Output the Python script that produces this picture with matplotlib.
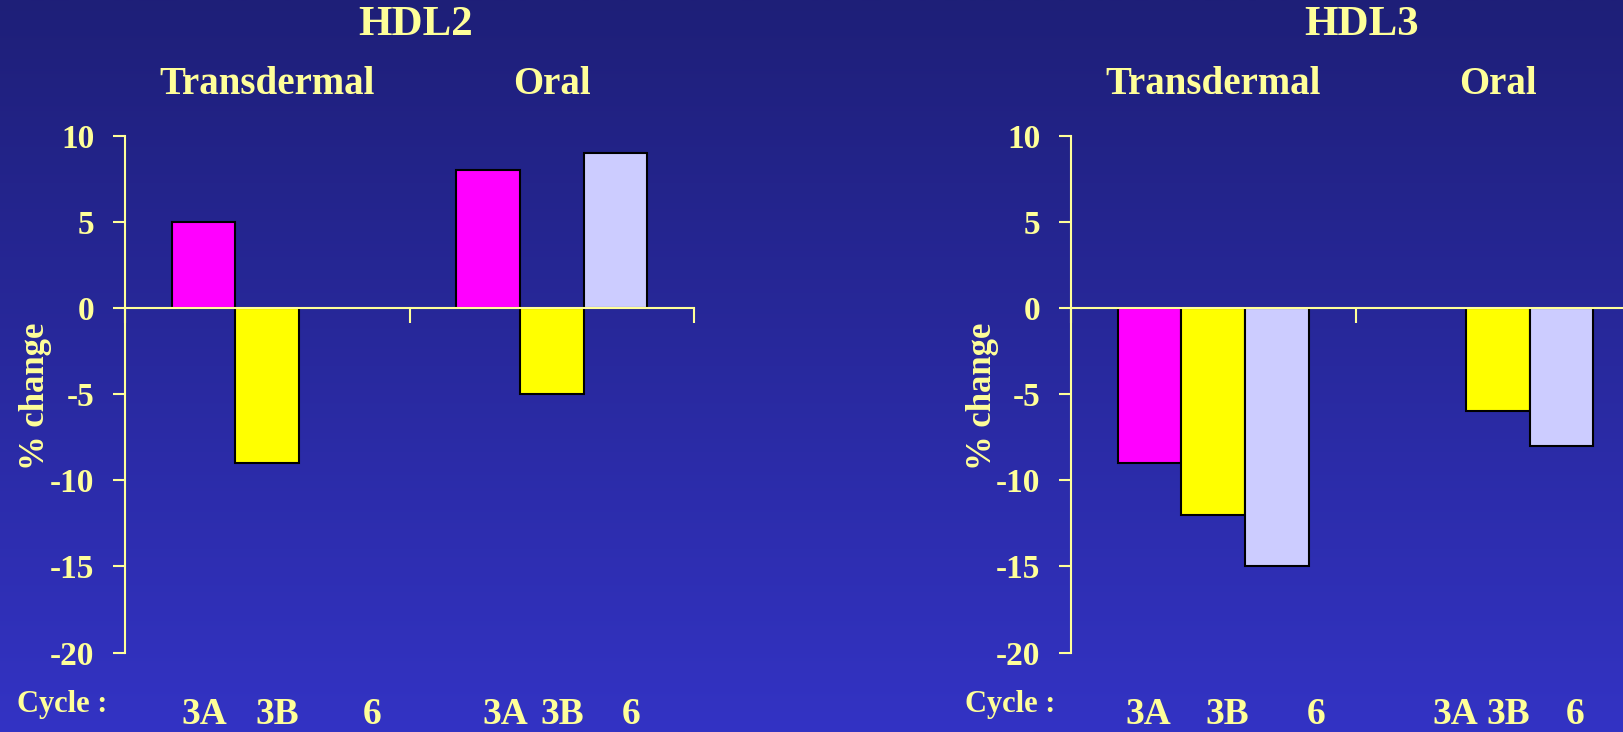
import numpy as np
import matplotlib
matplotlib.use("Agg")
from matplotlib import pyplot as plt
from matplotlib.colors import LinearSegmentedColormap

plt.rcParams["axes.unicode_minus"] = False

# data (None = no bar drawn)
groups = ["Transdermal", "Oral"]
cycles = ["3A", "3B", "6"]
hdl2_transdermal = [5, -9, None]
hdl2_oral = [8, -5, 9]
hdl3_transdermal = [-9, -12, -15]
hdl3_oral = [None, -6, -8]
yticks = [-20, -15, -10, -5, 0, 5, 10]

bar_colors = ["#FF00FF", "#FFFF00", "#CCCCFF"]
txt = "#FFFF99"
serif = "Liberation Serif"

fig = plt.figure(figsize=(16.24, 7.32), dpi=100)

# slide background gradient
bg = fig.add_axes([0, 0, 1, 1], zorder=-10)
cmap = LinearSegmentedColormap.from_list("bg", ["#1E1F78", "#3333C4"])
bg.imshow(np.linspace(0, 1, 256).reshape(-1, 1), cmap=cmap, aspect="auto",
          extent=[0, 1, 0, 1], origin="upper")
bg.set_axis_off()

bw = 0.224
offs = [-bw, 0, bw]


def panel(rect, title, trans, oral, lab_offs):
    ax = fig.add_axes(rect)
    ax.set_facecolor("none")
    for g, vals in enumerate([trans, oral]):
        for i, v in enumerate(vals):
            if v is None:
                continue
            ax.bar(g + offs[i], v, width=bw, color=bar_colors[i],
                   edgecolor="black", linewidth=1.5, zorder=2)
    ax.set_xlim(-0.5, 1.5)
    ax.set_ylim(-20, 10)
    ax.spines["top"].set_visible(False)
    ax.spines["right"].set_visible(False)
    ax.spines["bottom"].set_position(("data", 0))
    for s in ["left", "bottom"]:
        ax.spines[s].set_color(txt)
        ax.spines[s].set_linewidth(1.5)
    ax.spines["bottom"].set_zorder(3)
    ax.set_xticks([-0.5, 0.5, 1.5])
    ax.set_xticklabels([])
    ax.tick_params(axis="x", direction="out", length=11, width=1.5, color=txt)
    ax.set_yticks(yticks)
    ax.tick_params(axis="y", direction="out", length=9, width=1.5, color=txt,
                   pad=13, labelcolor=txt)
    for lab in ax.get_yticklabels():
        lab.set_fontfamily(serif)
        lab.set_fontweight("bold")
        lab.set_fontsize(24)
    tr = ax.get_xaxis_transform()
    ax.text(0.51, 1.215, title, transform=ax.transAxes, ha="center", va="center",
            color=txt, family=serif, weight="bold", fontsize=31)
    for g, name in enumerate(groups):
        ax.text(g, 1.10, name, transform=tr, ha="center", va="center",
                color=txt, family=serif, weight="bold", fontsize=28)
        for i, c in enumerate(cycles):
            ax.text(g + lab_offs[g][i], -0.12, c, transform=tr, ha="center",
                    va="center", color=txt, family=serif, weight="bold",
                    fontsize=27)
    return ax


panel([0.077, 0.1086, 0.3504, 0.706], "HDL2", hdl2_transdermal, hdl2_oral,
      [[-0.22, 0.035, 0.37], [-0.165, 0.035, 0.28]])
panel([0.6595, 0.1086, 0.3504, 0.706], "HDL3", hdl3_transdermal, hdl3_oral,
      [[-0.23, 0.05, 0.36], [-0.15, 0.036, 0.27]])

for x in [0.022, 0.605]:
    fig.text(x, 0.458, "% change", rotation=90, ha="center", va="center",
             color=txt, family=serif, weight="bold", fontsize=25)
fig.text(0.038, 0.038, "Cycle :", ha="center", va="center",
         color=txt, family=serif, weight="bold", fontsize=22)
fig.text(0.622, 0.038, "Cycle :", ha="center", va="center",
         color=txt, family=serif, weight="bold", fontsize=22)

fig.savefig("out.png", dpi=100)
